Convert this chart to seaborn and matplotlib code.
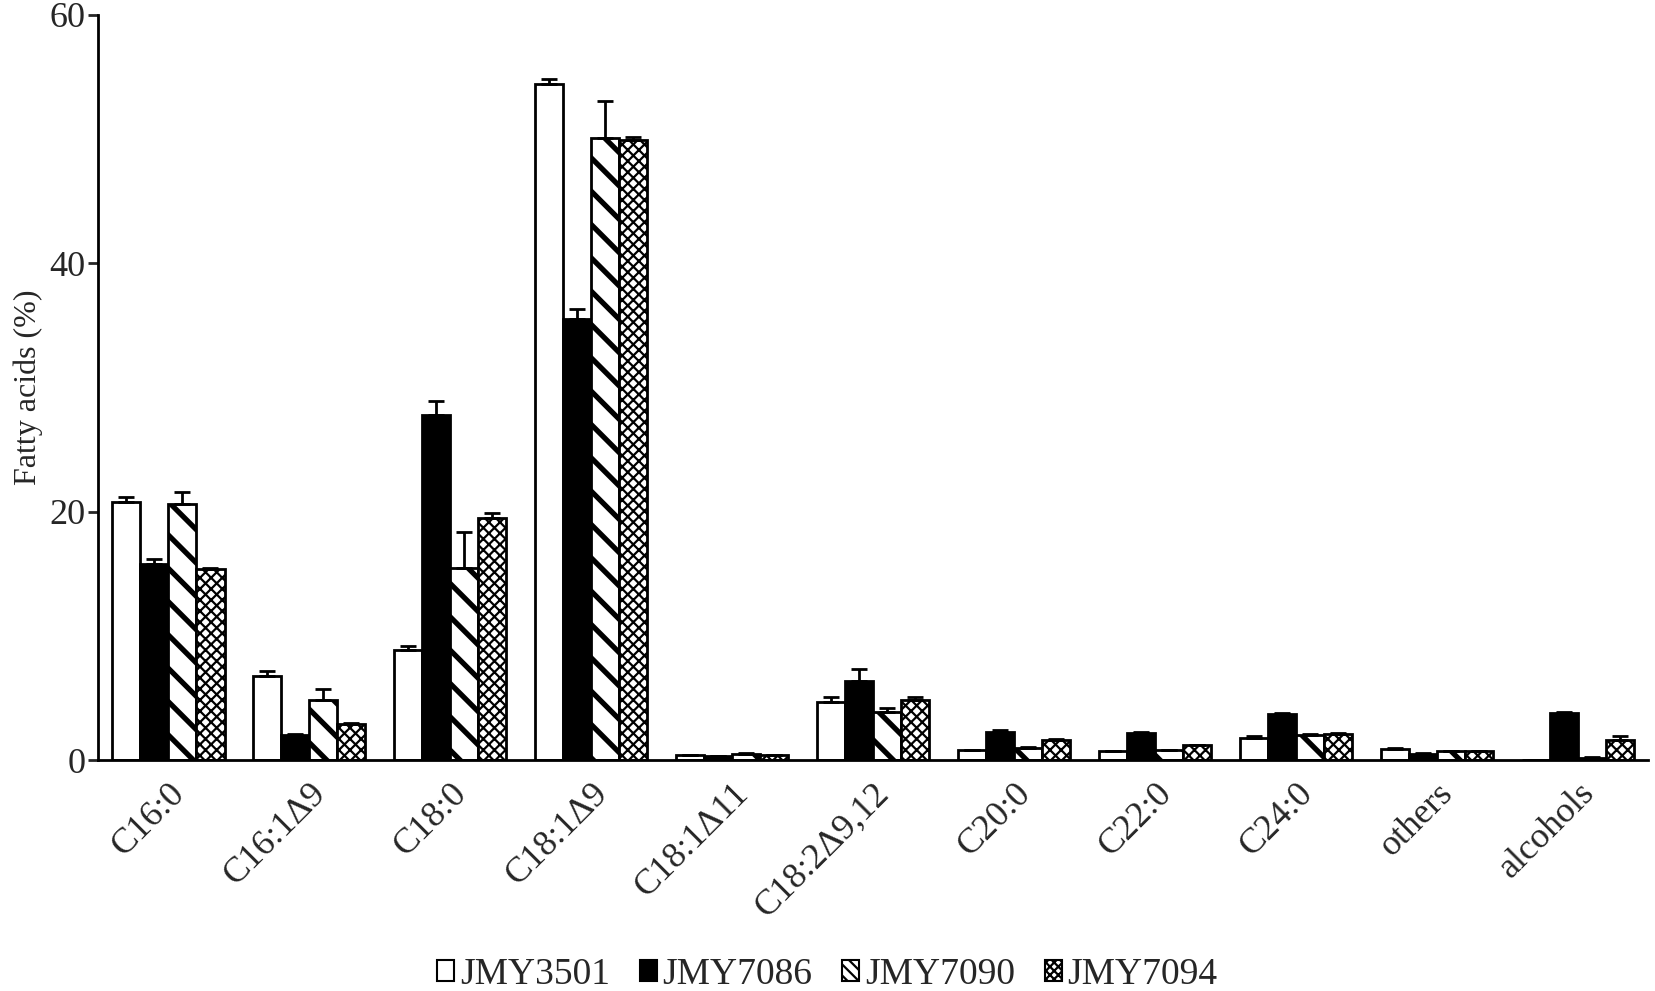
import numpy as np
import pandas as pd
import matplotlib
matplotlib.use("Agg")
import matplotlib.pyplot as plt
import seaborn as sns

# ==================== DATA ====================
categories = ["C16:0", "C16:1Δ9", "C18:0", "C18:1Δ9", "C18:1Δ11", "C18:2Δ9,12",
              "C20:0", "C22:0", "C24:0", "others", "alcohols"]
strains = ["JMY3501", "JMY7086", "JMY7090", "JMY7094"]

jmy3501 = [20.8, 6.8, 8.9, 54.4, 0.4, 4.7, 0.8, 0.7, 1.8, 0.9, 0.0]
jmy7086 = [15.8, 2.0, 27.8, 35.5, 0.3, 6.4, 2.3, 2.2, 3.7, 0.5, 3.8]
jmy7090 = [20.6, 4.8, 15.5, 50.1, 0.5, 3.9, 1.0, 0.8, 2.0, 0.7, 0.2]
jmy7094 = [15.4, 2.9, 19.5, 49.9, 0.4, 4.8, 1.6, 1.2, 2.1, 0.7, 1.6]

err3501 = [0.4, 0.4, 0.3, 0.4, 0.05, 0.4, 0.05, 0.05, 0.1, 0.05, 0.0]
err7086 = [0.4, 0.1, 1.1, 0.8, 0.05, 0.9, 0.1, 0.1, 0.1, 0.05, 0.1]
err7090 = [1.0, 0.9, 2.9, 3.0, 0.05, 0.3, 0.05, 0.05, 0.1, 0.05, 0.05]
err7094 = [0.1, 0.1, 0.4, 0.3, 0.05, 0.3, 0.1, 0.05, 0.05, 0.05, 0.3]

# ==================== STYLE ====================
sns.set_theme(style="ticks")
plt.rcParams["font.family"] = ["Liberation Serif", "DejaVu Serif"]
plt.rcParams["hatch.linewidth"] = 1.6
plt.rcParams["hatch.color"] = "black"

values = [jmy3501, jmy7086, jmy7090, jmy7094]
errors = [err3501, err7086, err7090, err7094]
df = pd.DataFrame({
    "category": np.tile(categories, len(strains)),
    "strain": np.repeat(strains, len(categories)),
    "value": np.concatenate(values),
})

fig, ax = plt.subplots(figsize=(16.55, 9.91), dpi=100)
fig.subplots_adjust(left=0.059, right=0.996, top=0.985, bottom=0.233)

sns.barplot(data=df, x="category", y="value", hue="strain", order=categories,
            hue_order=strains, palette=["white"] * 4, edgecolor="black",
            linewidth=2, errorbar=None, width=0.8, legend=False, ax=ax)

faces = ["white", "black", "white", "white"]
hatches = [None, None, "\\", "xxx"]
hatch_lw = [1.0, 1.0, 3.8, 1.6]


def style_patch(p, fc, h, hlw):
    p.set_facecolor(fc)
    if h:
        p.set_hatch(h)
        if hasattr(p, "set_hatch_linewidth"):
            p.set_hatch_linewidth(hlw)


for cont, fc, h, hlw, err in zip(ax.containers, faces, hatches, hatch_lw, errors):
    xs = []
    ys = []
    for bar in cont:
        style_patch(bar, fc, h, hlw)
        xs.append(bar.get_x() + bar.get_width() / 2)
        ys.append(bar.get_height())
    # one-sided (upper) error bars
    ax.errorbar(xs, ys, yerr=[np.zeros(len(err)), err], fmt="none",
                ecolor="black", elinewidth=2, capsize=6, capthick=2)

ax.set_xlim(-0.5, len(categories) - 0.5)
ax.set_ylim(0, 60)
ax.set_yticks([0, 20, 40, 60])
ax.set_xlabel("")
ax.set_ylabel("Fatty acids (%)", fontsize=23, labelpad=4)
ax.tick_params(axis="y", labelsize=26, width=2, length=7, pad=2, direction="out")
ax.tick_params(axis="x", labelsize=26, length=0, pad=12)
sns.despine(ax=ax)
for sp in ["left", "bottom"]:
    ax.spines[sp].set_linewidth(2)
    ax.spines[sp].set_color("black")

for lbl in ax.get_xticklabels():
    lbl.set_rotation(45)
    lbl.set_ha("right")
    lbl.set_rotation_mode("anchor")
    lbl.set_va("top")

# legend
handles = []
leg_hatches = [None, None, "\\\\\\", "xxxx"]
for fc, h, hlw in zip(faces, leg_hatches, [1.0, 1.0, 2.0, 1.2]):
    r = plt.Rectangle((0, 0), 1, 1, facecolor=fc, edgecolor="black", linewidth=1.5)
    style_patch(r, fc, h, hlw)
    handles.append(r)
fig.legend(handles, strains, loc="lower center", bbox_to_anchor=(0.5, -0.035),
           ncol=4, frameon=False, fontsize=27, handlelength=0.45, handleheight=0.5,
           handletextpad=0.15, columnspacing=0.8)

fig.savefig("out.png", dpi=100, facecolor="white")
